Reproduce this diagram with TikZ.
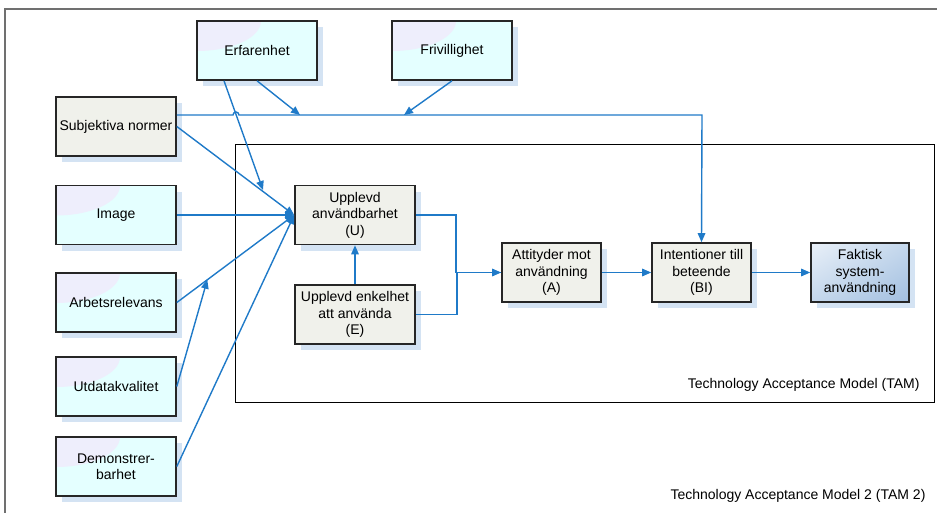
\documentclass[tikz,border=0pt]{standalone}
\usepackage{fontspec}
\setmainfont{Liberation Sans}
\usetikzlibrary{arrows.meta,shadows,shadings,calc}
\definecolor{linkblue}{HTML}{1F7AC8}
\definecolor{cyanfill}{HTML}{E4FFFF}
\definecolor{lavender}{HTML}{EEEEFC}
\definecolor{grayfill}{HTML}{F0F1EB}
\definecolor{shadowblue}{HTML}{D4E3F3}
\definecolor{fakLight}{HTML}{E9F0F8}
\definecolor{fakDark}{HTML}{A2BFE0}
\definecolor{fakMid}{HTML}{C4D7EC}
\definecolor{framegray}{HTML}{707070}
\begin{document}
\begin{tikzpicture}[x=1pt,y=-1pt,
  txt/.style={font=\fontsize{14}{16.5}\selectfont},
  box/.style={txt, draw=black!85, line width=1.6pt, align=center,
    minimum width=120pt, minimum height=59pt, inner sep=1pt,
    drop shadow={shadow xshift=6pt, shadow yshift=-6pt, fill=shadowblue, opacity=1}},
  cyanbox/.style={box, fill=cyanfill,
    path picture={\fill[lavender] (path picture bounding box.north west) ellipse (64pt and 30pt);}},
  graybox/.style={box, fill=grayfill},
  smallbox/.style={minimum width=99pt},
  factbox/.style={box, minimum width=98pt,
    path picture={\shade[upper left=fakLight, upper right=fakMid, lower left=fakMid, lower right=fakDark]
      (path picture bounding box.south west) rectangle (path picture bounding box.north east);}},
  conn/.style={draw=linkblue, line width=1.4pt, -{Triangle[length=9pt,width=7.5pt]}},
  plain/.style={draw=linkblue, line width=1.4pt}
]
\useasboundingbox (0,0) rectangle (937,512);

% outer frame (TAM 2) and inner frame (TAM)
\draw[framegray, line width=1.4pt] (5,530) -- (5,9) -- (950,9);
\draw[black, line width=0.9pt] (235,144) rectangle (934,402);
\node[txt, anchor=east] (tamlabel) at (923,385) {Technology Acceptance Model (TAM)};
\node[txt, anchor=east] (tam2label) at (929,496) {Technology Acceptance Model 2 (TAM 2)};

% external variables
\node[cyanbox] (erf) at (257,50.5) {Erfarenhet};
\node[cyanbox] (friv) at (452,50.5) {Frivillighet};
\node[graybox] (sn) at (116,126.5) {Subjektiva normer};
\node[cyanbox] (img) at (116,215) {Image};
\node[cyanbox] (arb) at (116,302.5) {Arbetsrelevans};
\node[cyanbox] (utd) at (116,386.5) {Utdatakvalitet};
\node[cyanbox] (dem) at (116,466.5) {Demonstrer-\\barhet};

% TAM core
\node[graybox] (u) at (355,215) {Upplevd\\användbarhet\\(U)};
\node[graybox] (e) at (355,314.5) {Upplevd enkelhet\\att använda\\(E)};
\node[graybox, smallbox] (a) at (551.5,272.5) {Attityder mot\\användning\\(A)};
\node[graybox, smallbox] (i) at (701.5,272.5) {Intentioner till\\beteende\\(BI)};
\node[factbox] (f) at (860,272.5) {Faktisk\\system-\\användning};

% subjective norms to intentions, with a hop over the experience line
\coordinate (jn) at (702,115);
\draw[conn] (sn.east |- jn) -- (233,115) arc (180:360:3) -- (jn) -- (i.north);

% moderators onto the norms line
\draw[conn] (erf.south) -- (300,115);
\draw[conn] (friv.south) -- (404,115);
\coordinate (erftip) at (263,190);
\draw[conn] ([xshift=-33pt]erf.south) -- (erftip);

% determinants of perceived usefulness
\draw[conn] (sn.east) -- (u.west);
\draw[conn] (img.east) -- (u.west);
\draw[conn] (arb.east) -- (u.west);
\draw[conn] (dem.east) -- (u.west);
\coordinate (arbmid) at ($(arb.east)!0.26!(u.west)$);
\draw[conn] (utd.east) -- (arbmid);

% TAM relations
\draw[conn] (e.north) -- (u.south);
\draw[plain] (u.east) -- ++(40,0) |- (a.west);
\draw[conn] (e.east) -- ++(41,0) |- (a.west);
\draw[conn] (a.east) -- (i.west);
\draw[conn] (i.east) -- (f.west);
\end{tikzpicture}
\end{document}
